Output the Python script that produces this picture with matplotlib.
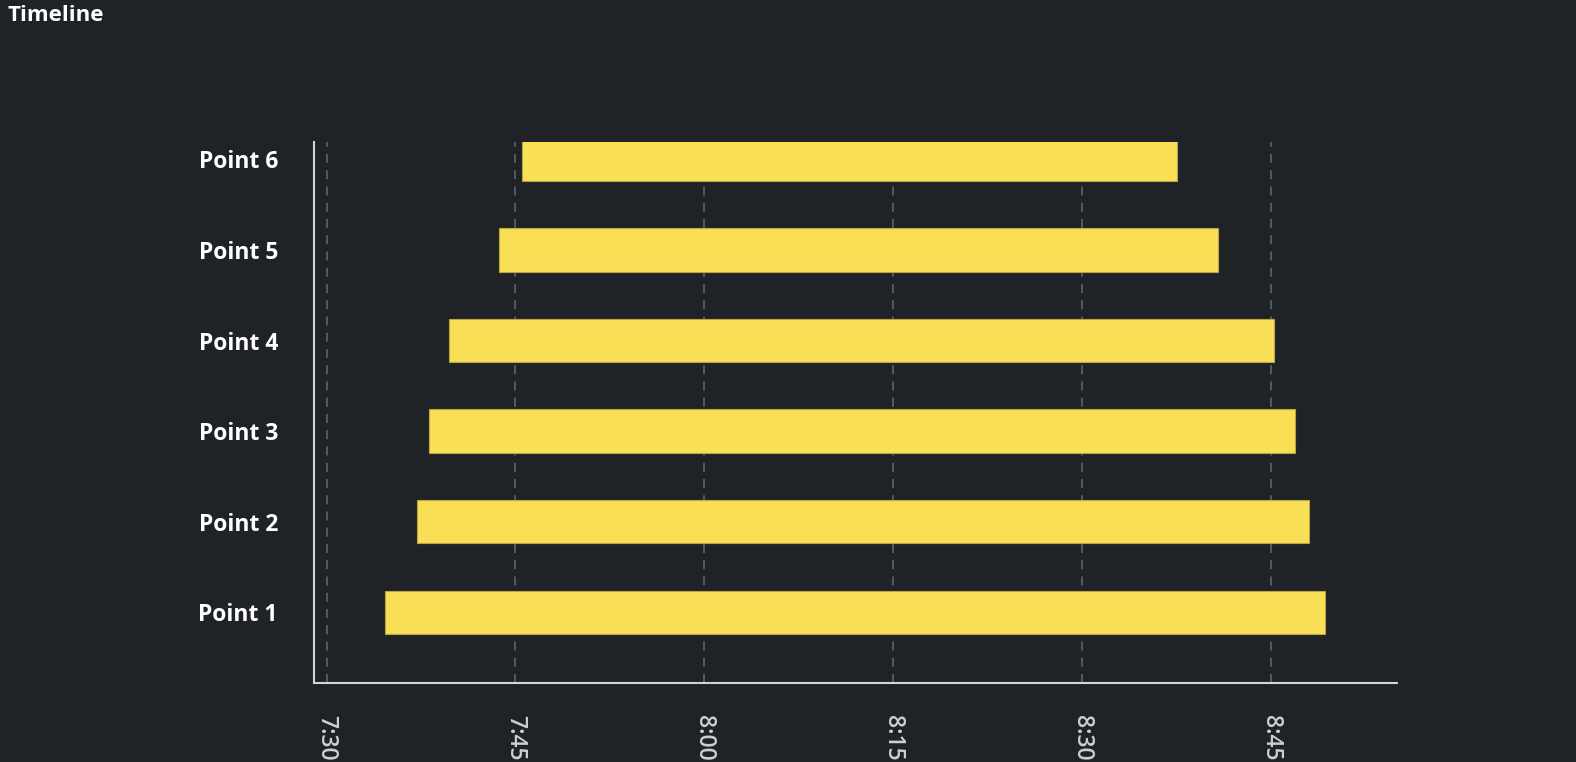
import matplotlib
matplotlib.use("Agg")
import matplotlib.pyplot as plt

# data
points = ["Point 1", "Point 2", "Point 3", "Point 4", "Point 5", "Point 6"]
starts = ["7:34:39", "7:37:10", "7:38:10", "7:39:41", "7:43:40", "7:45:30"]
ends = ["8:49:18", "8:48:00", "8:46:54", "8:45:12", "8:40:48", "8:37:30"]
tick_labels = ["7:30", "7:45", "8:00", "8:15", "8:30", "8:45"]


def to_min(s):
    parts = [int(p) for p in s.split(":")]
    while len(parts) < 3:
        parts.append(0)
    return parts[0] * 60 + parts[1] + parts[2] / 60.0


bg = "#1f2227"
yellow = "#f8df55"

plt.rcParams["font.family"] = ["Open Sans", "DejaVu Sans"]

fig = plt.figure(figsize=(15.76, 7.62), dpi=100, facecolor=bg)
ax = fig.add_axes([314 / 1576, 1 - 682.7 / 762, (1397 - 314) / 1576, (682.7 - 142) / 762])
ax.set_facecolor(bg)

s = [to_min(v) for v in starts]
e = [to_min(v) for v in ends]
ypos = list(range(len(points)))
ax.barh(ypos, [b - a for a, b in zip(s, e)], left=s, height=0.478,
        color=yellow, edgecolor="#b9a640", linewidth=0.8, zorder=3)

ticks = [to_min(t) for t in tick_labels]
ax.set_xticks(ticks)
ax.set_xticklabels(tick_labels, rotation=-90, color="#cfcfcf", fontsize=16.5,
                   fontweight="semibold")
ax.set_yticks(ypos)
ax.set_yticklabels(points, color="white", fontsize=16.5, fontweight="bold")
ax.tick_params(axis="x", length=0, pad=23)
ax.tick_params(axis="y", length=0, pad=26)

ax.set_xlim(to_min("7:29"), to_min("8:55"))
ax.set_ylim(-0.775, 5.19)

ax.grid(axis="x", color="#5a5e64", linestyle=(0, (5, 4)), linewidth=1.3, zorder=0)
ax.grid(axis="y", visible=False)

for side in ["top", "right"]:
    ax.spines[side].set_visible(False)
for side in ["left", "bottom"]:
    ax.spines[side].set_color("#d4d4d4")
    ax.spines[side].set_linewidth(1.5)

fig.text(7 / 1576, 1 - 5 / 762, "Timeline", color="white", fontsize=16,
         fontweight="bold", ha="left", va="top")

fig.savefig("out.png", dpi=100, facecolor=bg)
